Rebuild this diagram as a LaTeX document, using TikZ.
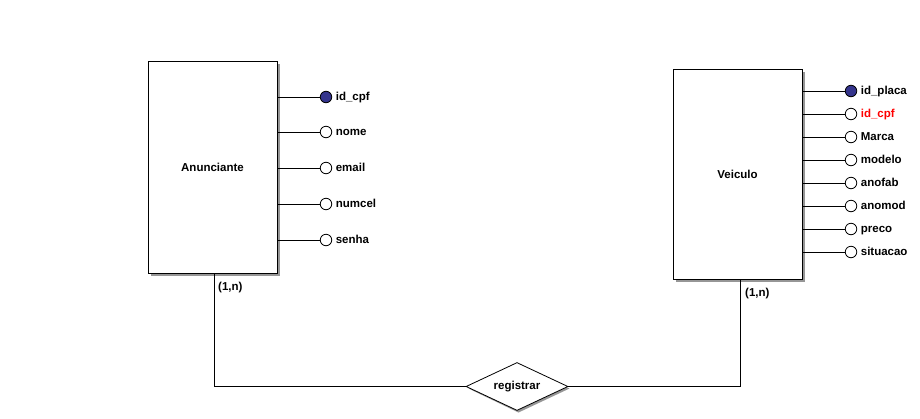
\documentclass[tikz,border=0pt]{standalone}
\usepackage{fontspec}
\setmainfont{Liberation Sans}
\usetikzlibrary{shapes.geometric,calc}
\definecolor{pkblue}{RGB}{52,52,140}
\definecolor{shadowgray}{RGB}{150,150,150}
\tikzset{
  lbl/.style={font=\bfseries\fontsize{11.5}{13}\selectfont},
  entity/.style={draw=black,fill=white,line width=1pt,inner sep=0pt,lbl},
  attr/.style={circle,draw=black,fill=white,line width=0.8pt,minimum size=11.5pt,inner sep=0pt},
  pkattr/.style={attr,fill=pkblue},
  attrlabel/.style={anchor=west,inner sep=0pt,text height=8.5pt,text depth=2.5pt,lbl},
  card/.style={anchor=west,inner sep=0pt,text height=8.5pt,text depth=2.5pt,lbl},
  rel/.style={diamond,draw=black,fill=white,line width=0.8pt,minimum width=102pt,minimum height=48pt,inner sep=0pt},
  conn/.style={line width=1pt,draw=black}
}
\begin{document}
\begin{tikzpicture}[x=1pt,y=-1pt]
\useasboundingbox[fill=white] (0,0) rectangle (920,418);
% shadows
\fill[shadowgray] (150.5,63.5) rectangle (279.5,275.5);
\fill[shadowgray] (675.5,71.5) rectangle (804.5,281.5);
% entities
\node[entity,minimum width=129pt,minimum height=212pt] (anun) at (212.5,167) {Anunciante};
\node[entity,minimum width=129pt,minimum height=210pt] (veic) at (737.5,174) {Veiculo};
% Anunciante attributes
\node[pkattr] (a1) at (326,97) {};
\node[attr] (a2) at (326,132) {};
\node[attr] (a3) at (326,168) {};
\node[attr] (a4) at (326,204) {};
\node[attr] (a5) at (326,240) {};
\foreach \n/\t in {a1/id\_cpf,a2/nome,a3/email,a4/numcel,a5/senha}{
  \draw[conn] (anun.east |- \n) -- (\n.west);
  \node[attrlabel] at ($(\n.east)+(3.5,0)$) {\t};
}
% Veiculo attributes
\node[pkattr] (v1) at (851,91) {};
\node[attr] (v2) at (851,114) {};
\node[attr] (v3) at (851,137) {};
\node[attr] (v4) at (851,160) {};
\node[attr] (v5) at (851,183) {};
\node[attr] (v6) at (851,206) {};
\node[attr] (v7) at (851,229) {};
\node[attr] (v8) at (851,252) {};
\foreach \n in {v1,v2,v3,v4,v5,v6,v7,v8}{
  \draw[conn] (veic.east |- \n) -- (\n.west);
}
\node[attrlabel] at ($(v1.east)+(3.5,0)$) {id\_placa};
\node[attrlabel,text=red] at ($(v2.east)+(3.5,0)$) {id\_cpf};
\node[attrlabel] at ($(v3.east)+(3.5,0)$) {Marca};
\node[attrlabel] at ($(v4.east)+(3.5,0)$) {modelo};
\node[attrlabel] at ($(v5.east)+(3.5,0)$) {anofab};
\node[attrlabel] at ($(v6.east)+(3.5,0)$) {anomod};
\node[attrlabel] at ($(v7.east)+(3.5,0)$) {preco};
\node[attrlabel] at ($(v8.east)+(3.5,0)$) {situacao};
% relationship
\fill[shadowgray] (468.5,388.5) -- (518.5,363.5) -- (569.5,388.5) -- (518.5,412.5) -- cycle;
\node[rel] (reg) at (517,386.5) {};
\node[lbl,inner sep=0pt] (regtxt) at (reg.center) {registrar};
\coordinate (ls) at ($(anun.south)+(1.5,0)$);
\coordinate (rs) at ($(veic.south)+(2.5,0)$);
\draw[conn] (ls) -- (ls |- reg.west) -- (reg.west);
\draw[conn] (rs) -- (rs |- reg.east) -- (reg.east);
\node[card] at (218,287) {(1,n)};
\node[card] at (745,293) {(1,n)};
\end{tikzpicture}
\end{document}
